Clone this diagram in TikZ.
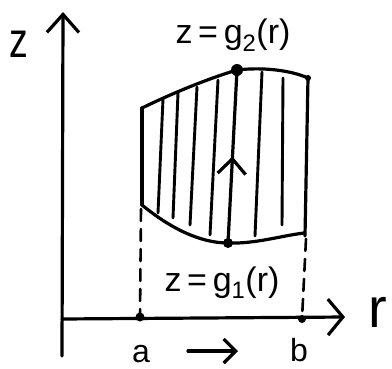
\documentclass[tikz,border=0pt]{standalone}
\usepackage{fontspec}
\setmainfont{Liberation Sans}
\usetikzlibrary{arrows.meta,decorations.markings}
\begin{document}
\begin{tikzpicture}[x=1pt,y=-1pt,line cap=round,line join=round,
  ink/.style={line width=3.2pt,black},
  hatch/.style={line width=2.9pt,black},
  dashline/.style={line width=2.6pt,black,dash pattern=on 12pt off 8pt},
  dotmark/.style={circle,fill=black,inner sep=0pt,minimum size=#1},
  lbl/.style={inner sep=0pt,anchor=base,font=\fontsize{#1}{#1}\selectfont}]
\useasboundingbox (0,0) rectangle (392,368);
% axes
\coordinate (zbot) at (62,356);
\coordinate (zend) at (63,12);
\coordinate (O) at (62,319);
\coordinate (rend) at (345,317);
\draw[ink,-{Straight Barb[length=18pt,width=32pt]}] (zbot) -- (zend);
\draw[ink,-{Straight Barb[length=15pt,width=36pt]}] (O) -- (rend);
% points
\node[dotmark=12pt] (top) at (237,70) {};
\node[dotmark=10pt] (bot) at (228,243) {};
\node[dotmark=9pt] (a) at (140,317) {};
\node[dotmark=8pt] (b) at (302,319) {};
\node[dotmark=6pt] (TR) at (308,78) {};
\coordinate (TL) at (142,108);
\coordinate (BL) at (142,205);
\coordinate (BR) at (304,233);
\coordinate (RB) at (305,236);
% region boundary
\draw[ink] (TL) .. controls (175,92) and (210,78) .. (top.center)
  .. controls (262,67) and (290,70) .. (TR.center);
\draw[ink] (BL) .. controls (170,228) and (200,243) .. (bot.center)
  .. controls (255,244) and (280,236) .. (BR);
\draw[ink] (TL) -- (BL);
\draw[ink] (TR.center) -- (RB);
% hatching
\coordinate (h1t) at (163,99);  \coordinate (h1b) at (158,213);
\coordinate (h2t) at (178,93);  \coordinate (h2b) at (173,218);
\coordinate (h3t) at (197,87);  \coordinate (h3b) at (190,225);
\coordinate (h4t) at (218,80);  \coordinate (h4b) at (210,235);
\coordinate (h6t) at (262,72);  \coordinate (h6b) at (255,236);
\coordinate (h7t) at (283,78);  \coordinate (h7b) at (282,225);
\foreach \i in {1,2,3,4,6,7} \draw[hatch] (h\i t) -- (h\i b);
\draw[ink,decoration={markings,mark=at position 0.5 with {\arrow{Straight Barb[length=15pt,width=28pt]}}},postaction={decorate}] (bot.center) -- (top.center);
% dashed
\coordinate (dl) at (141,209);
\coordinate (dr) at (306,239);
\draw[dashline] (dl) -- (a.center);
\draw[dashline] (dr) -- (b.center);
% a -> b
\coordinate (arrA) at (188,351);
\coordinate (arrB) at (238,351);
\draw[ink,-{Straight Barb[length=12pt,width=24pt]}] (arrA) -- (arrB);
% labels
\node[lbl=50,xscale=0.75] (zl) at (19,57) {z};
\node[lbl=56] (rl) at (378,327) {r};
\node[lbl=32] (al) at (141,362) {a};
\node[lbl=32] (bl) at (299,361) {b};
\node[lbl=34] (g2) at (233,43) {z\,=\,g\textsubscript{2}(r)};
\node[lbl=34] (g1) at (222,291) {z\,=\,g\textsubscript{1}(r)};
\end{tikzpicture}
\end{document}
